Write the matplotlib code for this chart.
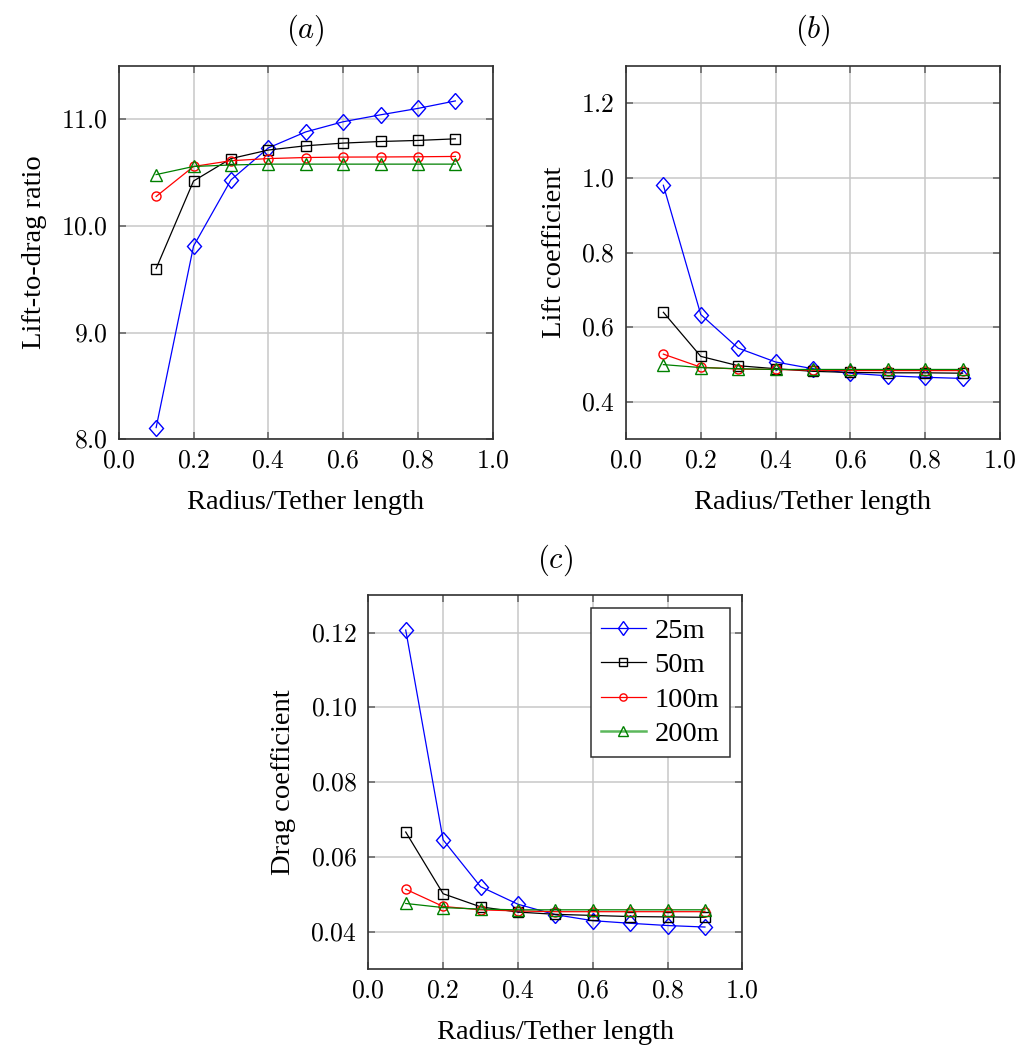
import matplotlib
matplotlib.use("Agg")
import matplotlib.pyplot as plt
from matplotlib.ticker import FuncFormatter, MultipleLocator
from matplotlib.markers import MarkerStyle
from matplotlib.transforms import Affine2D

plt.rcParams["font.family"] = ["Liberation Serif", "DejaVu Serif"]
plt.rcParams["mathtext.fontset"] = "cm"

ratio = [0.1, 0.2, 0.3, 0.4, 0.5, 0.6, 0.7, 0.8, 0.9]
labels = ["25m", "50m", "100m", "200m"]

# lift-to-drag ratio
ld_25 = [8.11, 9.81, 10.43, 10.73, 10.88, 10.975, 11.04, 11.10, 11.17]
ld_50 = [9.60, 10.42, 10.63, 10.71, 10.75, 10.775, 10.79, 10.80, 10.815]
ld_100 = [10.275, 10.556, 10.61, 10.63, 10.64, 10.644, 10.645, 10.647, 10.65]
ld_200 = [10.48, 10.556, 10.57, 10.578, 10.578, 10.578, 10.578, 10.578, 10.578]

# lift coefficient
cl_25 = [0.98, 0.634, 0.544, 0.507, 0.489, 0.477, 0.470, 0.466, 0.463]
cl_50 = [0.64, 0.522, 0.497, 0.489, 0.482, 0.479, 0.478, 0.478, 0.477]
cl_100 = [0.528, 0.493, 0.488, 0.487, 0.485, 0.484, 0.484, 0.484, 0.484]
cl_200 = [0.50, 0.492, 0.489, 0.487, 0.487, 0.487, 0.487, 0.487, 0.487]

# drag coefficient
cd_25 = [0.1207, 0.0646, 0.0521, 0.0474, 0.0446, 0.0430, 0.0423, 0.0417, 0.0413]
cd_50 = [0.0667, 0.0502, 0.0467, 0.0453, 0.0447, 0.0444, 0.0441, 0.0440, 0.0439]
cd_100 = [0.0514, 0.0468, 0.0459, 0.0456, 0.0454, 0.0454, 0.0454, 0.0454, 0.0454]
cd_200 = [0.0476, 0.0465, 0.0461, 0.0459, 0.0459, 0.0459, 0.0459, 0.0459, 0.0459]

# taller-than-wide diamond like the reference
diamond = MarkerStyle("D", transform=Affine2D().scale(0.78, 1.0))

styles = [
    dict(color="#0000ff", marker=diamond, ms=8.5),
    dict(color="black", marker="s", ms=6.5),
    dict(color="#ff0000", marker="o", ms=6.5),
    dict(color="#008000", marker="^", ms=8.5),
]

fig = plt.figure(figsize=(10.2, 10.48), dpi=100)
ax_a = fig.add_axes([0.1164, 0.5808, 0.3667, 0.3565])
ax_b = fig.add_axes([0.6137, 0.5808, 0.3667, 0.3565])
ax_c = fig.add_axes([0.3611, 0.0751, 0.3667, 0.3569])

panels = [
    (ax_a, [ld_25, ld_50, ld_100, ld_200], "Lift-to-drag ratio", (8.0, 11.5), 1.0, "%.1f", "$(a)$"),
    (ax_b, [cl_25, cl_50, cl_100, cl_200], "Lift coefficient", (0.3, 1.3), 0.2, "%.1f", "$(b)$"),
    (ax_c, [cd_25, cd_50, cd_100, cd_200], "Drag coefficient", (0.03, 0.13), 0.02, "%.2f", "$(c)$"),
]

for ax, series, ylab, ylim, ystep, fmt, title in panels:
    for ys, st, lab in zip(series, styles, labels):
        ax.plot(ratio, ys, color=st["color"], lw=0.9, marker=st["marker"],
                ms=st["ms"], mfc="none", mec=st["color"], mew=1.0, label=lab)
    ax.set_xlim(0, 1)
    ax.set_ylim(*ylim)
    ax.xaxis.set_major_locator(MultipleLocator(0.2))
    ax.yaxis.set_major_locator(MultipleLocator(ystep))
    ax.xaxis.set_major_formatter(FuncFormatter(lambda v, p: "$%.1f$" % v))
    ax.yaxis.set_major_formatter(FuncFormatter(lambda v, p, f=fmt: "$" + (f % v) + "$"))
    ax.grid(True, color="#c8c8c8", lw=1.1)
    ax.set_axisbelow(True)
    ax.tick_params(direction="in", length=5, width=1.1, color="#606060",
                   labelsize=18.5, pad=8, right=True, top=True)
    for sp in ax.spines.values():
        sp.set_color("#303030")
        sp.set_linewidth(1.2)
    ax.set_xlabel("Radius/Tether length", fontsize=20.5, labelpad=13)
    ax.set_ylabel(ylab, fontsize=20.5, labelpad=10)
    ax.set_title(title, fontsize=22, pad=20)

leg = ax_c.legend(loc="upper right", fontsize=20.5, frameon=True, fancybox=False,
                  edgecolor="#303030", framealpha=1, handlelength=1.6,
                  borderpad=0.35, labelspacing=0.3, handletextpad=0.3,
                  borderaxespad=0.45, markerscale=0.8)
leg.get_frame().set_linewidth(1.1)
leg.get_lines()[3].set_color("#5cb85c")
leg.get_lines()[3].set_linewidth(1.8)
leg.get_lines()[3].set_markeredgecolor("#008000")

fig.savefig("out.png", dpi=100)
